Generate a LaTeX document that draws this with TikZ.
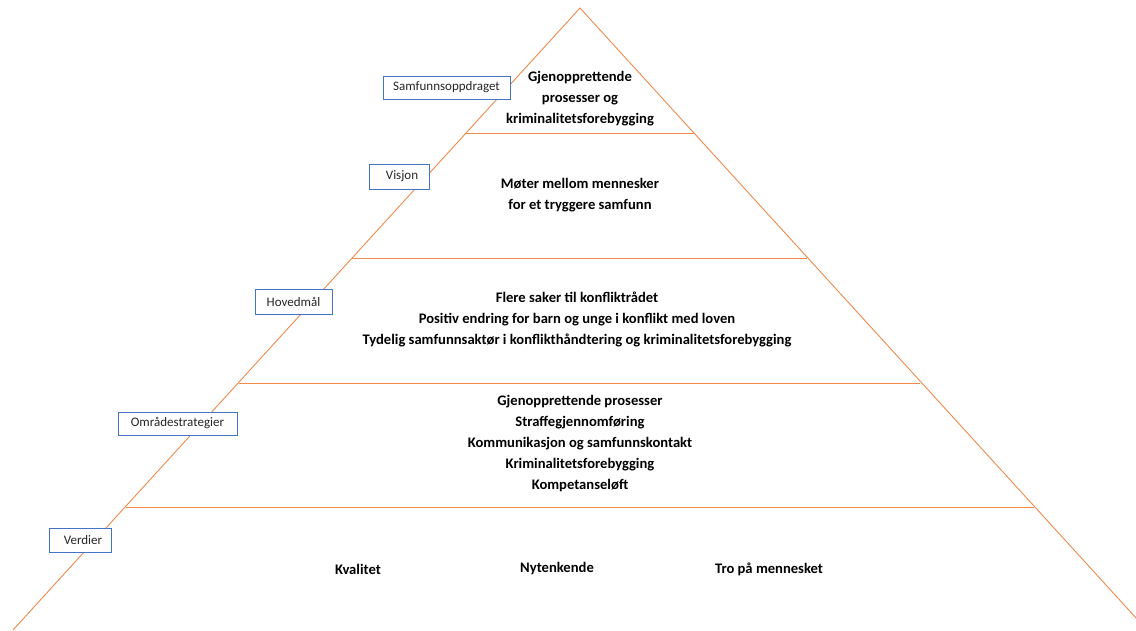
\documentclass[tikz,border=0pt]{standalone}
\usepackage{fontspec}
\setmainfont{Carlito}
\definecolor{pyr}{HTML}{F08A4B}
\definecolor{lbl}{HTML}{4472C4}
\definecolor{txt}{HTML}{262626}
\begin{document}
\begin{tikzpicture}[x=1pt,y=-1pt,
  pline/.style={draw=pyr,line width=0.9pt},
  lblbox/.style={draw=lbl,line width=0.9pt,fill=white,inner sep=0pt,text=txt,font=\fontsize{13}{15}\selectfont,align=center},
  body/.style={font=\bfseries\fontsize{14.6}{20.8}\selectfont,align=center,inner sep=0pt}]
\useasboundingbox (0,0) rectangle (1136,630);
\clip (0,0) rectangle (1136,630);
% pyramid outline
\coordinate (apex) at (580,8);
\coordinate (bl) at (13,630);
\coordinate (br) at (1147,630);
\draw[pline] (bl) -- (apex) -- (br);
% tier lines
\coordinate (l1a) at (466,133); \coordinate (l1b) at (694,133);
\coordinate (l2a) at (352,258); \coordinate (l2b) at (807,258);
\coordinate (l3a) at (239,383); \coordinate (l3b) at (920,383);
\coordinate (l4a) at (126,507); \coordinate (l4b) at (1034,507);
\draw[pline] (l1a) -- (l1b);
\draw[pline] (l2a) -- (l2b);
\draw[pline] (l3a) -- (l3b);
\draw[pline] (l4a) -- (l4b);
% labels
\node[lblbox,minimum width=127pt,minimum height=23pt] (samf) at (446.5,87.5) {Samfunnsoppdraget};
\node[lblbox,minimum width=60pt,minimum height=25pt] (vis) at (399,176.5) {\hspace*{6pt}Visjon};
\node[lblbox,minimum width=77pt,minimum height=25pt] (hov) at (293.5,301.5) {Hovedmål};
\node[lblbox,minimum width=119pt,minimum height=23pt] (omr) at (177.5,423.5) {Områdestrategier};
\node[lblbox,minimum width=62pt,minimum height=24pt] (ver) at (80,540) {\hspace*{6pt}Verdier};
% tier texts
\node[body] (t1) at (580,98.5) {Gjenopprettende\\prosesser og\\kriminalitetsforebygging};
\node[body] (t2) at (580,195) {Møter mellom mennesker\\for et tryggere samfunn};
\node[body] (t3) at (577,319.5) {Flere saker til konfliktrådet\\Positiv endring for barn og unge i konflikt med loven\\Tydelig samfunnsaktør i konflikthåndtering og kriminalitetsforebygging};
\node[body] (t4) at (580,443.5) {Gjenopprettende prosesser\\Straffegjennomføring\\Kommunikasjon og samfunnskontakt\\Kriminalitetsforebygging\\Kompetanseløft};
\node[body] (v1) at (358,569) {Kvalitet};
\node[body] (v2) at (557,569) {Nytenkende};
\node[body] (v3) at (769,569) {Tro på mennesket};
\end{tikzpicture}
\end{document}
